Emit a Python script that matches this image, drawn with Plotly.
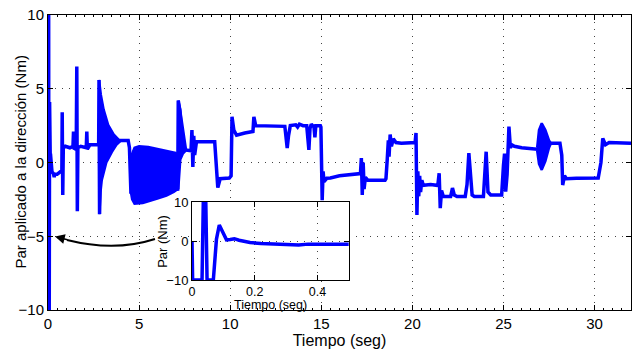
import plotly.graph_objects as go

# ---- data: first 0.5 s (shown in inset and main chart) ----
t_start = [0.0, 0.002, 0.032, 0.036, 0.044, 0.048, 0.068, 0.078, 0.087, 0.098, 0.11, 0.122, 0.135,
           0.15, 0.17, 0.185, 0.22, 0.26, 0.3, 0.34, 0.37, 0.42, 0.5]
v_start = [0.0, -10.0, -10.0, 10.0, 10.0, -10.0, -10.0, 0.5, 4.1, 2.5, 0.3, 0.4, 0.6,
           0.2, -0.2, -0.4, -0.65, -0.7, -0.75, -1.0, -0.8, -0.8, -0.8]

# ---- data: rest of the signal (t > 0.5 s) ----
t_rest = [0.6, 0.7, 0.76, 0.78, 0.81, 0.84, 0.95, 1.2, 1.37, 1.40, 1.43, 1.55, 1.58, 1.61, 1.64, 1.8, 2.0,
          2.1, 2.13, 2.16, 2.3, 2.7, 2.78, 2.80, 2.83, 2.9, 3.3,
          3.96, 4.4, 4.47, 4.55,
          7.12, 7.15,
          7.55, 7.85, 7.9, 7.95, 8.0, 8.05, 8.15, 9.15, 9.25, 9.32, 9.45, 9.95, 10.05, 10.1, 10.2,
          10.35, 10.8, 11.25, 11.3, 11.4, 13.0, 13.08, 13.13, 13.2, 13.3, 13.6, 13.7, 13.8, 14.0,
          14.2, 14.28, 14.32, 14.38, 14.45, 14.6, 14.65, 14.7, 14.95, 14.98, 15.05, 15.1, 15.15,
          15.3, 15.5, 16.0, 16.9, 17.15, 17.2, 17.25, 17.3, 17.35, 17.42, 17.55, 18.5, 18.55,
          18.62, 18.68, 18.72, 18.78, 18.85, 18.95, 19.1, 19.4, 20.15, 20.2, 20.25, 20.3, 20.35,
          20.4, 20.45, 20.52, 20.6, 21.0, 21.35, 21.4, 21.47, 21.53, 21.6, 21.7, 22.1, 22.2,
          22.3, 22.45, 22.9, 23.0, 23.1, 23.2, 23.28, 23.4, 23.9, 24.05, 24.15, 24.3, 24.9, 25.0,
          25.06, 25.12, 25.2, 25.3, 25.38, 25.45, 25.6, 26.0, 26.85,
          27.6, 28.1, 28.2, 28.25, 28.35, 28.45, 29.0, 30.2, 30.35, 30.45, 30.6, 30.8, 32.0]
v_rest = [-0.7, -0.6, -0.7, 3.4, -2.2, 1.0, 1.1, 1.0, 1.1, 2.1, 0.9, 1.0, 6.5, -3.3, 1.0, 1.1, 1.0,
          1.0, 2.1, 0.9, 1.2, 1.2, 1.2, 5.6, -3.5, 1.2, 1.3,
          1.5, 1.5, 1.0, -2.0,
          -1.8, 4.2,
          0.85, 0.8, 2.2, -0.3, 1.8, 0.5, 1.4, 1.4, -0.9, -1.7, -1.1, -1.05, -0.9, 3.1, 2.2,
          1.85, 2.0, 2.1, 3.1, 2.5, 2.45, 1.6, 0.98, 1.8, 2.5, 2.55, 2.4, 2.6, 2.5,
          2.5, 1.5, 0.85, 2.3, 2.6, 2.4, 1.7, 2.5, 2.5, 2.4, -2.55, -0.6, -1.3,
          -1.07, -1.05, -0.9, -0.75, -0.75, 0.3, -2.2, 0.0, -1.8, -1.0, -1.2, -1.2, -1.1,
          0.2, 1.5, 0.4, 1.9, 1.1, 1.6, 1.35, 1.3, 1.35, 2.0, -3.55, -0.6, -2.3,
          -0.9, -2.0, -1.2, -1.55, -1.5, -1.55, -1.5, -0.73, -3.1, -1.9, -2.3, -2.3, -1.73,
          -2.2, -2.3, -2.3, -1.5, 0.64, -1.5, -2.2, -2.3, -2.3, 0.73, -2.0, -2.2, -2.2, -0.2,
          0.6, -1.98, -0.8, 2.43, 1.0, 1.2, 1.1, 1.0, 0.9,
          1.3, 1.3, 0.5, -1.53, -0.9, -1.1, -1.07, -1.05, 0.0, 1.64, 1.2, 1.35, 1.3]

# ---- oscillation envelopes (filled bands) ----
band1_t_up = [2.80, 2.9, 3.05, 3.3, 3.6, 3.87, 3.96]
band1_v_up = [5.6, 4.6, 3.6, 2.55, 1.9, 1.55, 1.5]
band1_t_lo = [2.82, 2.88, 2.95, 3.2, 3.5, 3.75, 3.96]
band1_v_lo = [-3.5, -2.0, -1.2, 0.0, 0.7, 1.2, 1.45]

band2_t_up = [4.55, 4.62, 4.75, 5.0, 5.5, 6.0, 6.5, 7.0, 7.12]
band2_v_up = [-1.5, 0.6, 1.0, 1.1, 1.05, 0.9, 0.8, 0.65, 0.5]
band2_t_lo = [4.55, 4.62, 4.75, 5.2, 6.0, 6.5, 6.9, 7.12]
band2_v_lo = [-2.0, -2.5, -2.8, -2.75, -2.45, -2.25, -2.0, -1.8]

band3_t_up = [7.15, 7.26, 7.35, 7.45, 7.55]
band3_v_up = [4.2, 3.6, 2.2, 1.2, 0.9]
band3_t_lo = [7.15, 7.26, 7.4, 7.55]
band3_v_lo = [-1.8, 0.2, 0.6, 0.8]

band4_t_up = [26.85, 26.95, 27.1, 27.3, 27.5, 27.6]
band4_v_up = [1.0, 2.2, 2.66, 2.2, 1.5, 1.3]
band4_t_lo = [26.85, 26.95, 27.1, 27.3, 27.5, 27.6]
band4_v_lo = [0.8, -0.1, -0.5, 0.1, 1.0, 1.3]

x_ticks = [0, 5, 10, 15, 20, 25, 30]
y_ticks = [-10, -5, 0, 5, 10]
ix_ticks = [0, 0.2, 0.4]
iy_ticks = [-10, 0, 10]

BLUE = "#0000ff"
FONT = "Liberation Sans"

fig = go.Figure()

bands = [(band1_t_up, band1_v_up, band1_t_lo, band1_v_lo),
         (band2_t_up, band2_v_up, band2_t_lo, band2_v_lo),
         (band3_t_up, band3_v_up, band3_t_lo, band3_v_lo),
         (band4_t_up, band4_v_up, band4_t_lo, band4_v_lo)]
for tu, vu, tl, vl in bands:
    fig.add_trace(go.Scatter(x=tu + tl[::-1], y=vu + vl[::-1], fill="toself",
                             fillcolor=BLUE, mode="lines", line=dict(color=BLUE, width=2.5),
                             showlegend=False, hoverinfo="skip"))

fig.add_trace(go.Scatter(x=t_start + t_rest, y=v_start + v_rest, mode="lines",
                         line=dict(color=BLUE, width=3.5), showlegend=False))

fig.add_trace(go.Scatter(x=t_start, y=v_start, mode="lines", xaxis="x2", yaxis="y2",
                         line=dict(color=BLUE, width=3.5), showlegend=False))

grid = dict(showgrid=True, gridcolor="#444", griddash="1px,6px", gridwidth=1,
            showline=True, linecolor="black", linewidth=1, mirror="ticks",
            ticks="inside", ticklen=5, tickcolor="black", zeroline=False)

fig.update_layout(
    width=633, height=351,
    margin=dict(l=48, r=2, t=15, b=41),
    paper_bgcolor="white", plot_bgcolor="white",
    font=dict(family=FONT, color="black"),
    xaxis=dict(range=[0, 32], tickvals=x_ticks, tickfont=dict(size=15),
               title=dict(text="Tiempo (seg)", font=dict(size=16), standoff=0),
               minor=dict(ticks="inside", dtick=0.5, ticklen=2, tickcolor="black", showgrid=False),
               **grid),
    yaxis=dict(range=[-10, 10], tickvals=y_ticks, tickfont=dict(size=15), **grid),
    xaxis2=dict(domain=[0.247, 0.516], anchor="y2", range=[0, 0.5], tickvals=ix_ticks,
                ticktext=["0", "0.2", "0.4"], tickfont=dict(size=12.5), **grid),
    yaxis2=dict(domain=[0.1017, 0.366], anchor="x2", range=[-10, 10], tickvals=iy_ticks,
                tickfont=dict(size=13), **grid),
    shapes=[dict(type="path", xref="paper", yref="paper",
                 path="M 0.1835 0.2407 Q 0.1149 0.1966 0.0326 0.2373",
                 line=dict(color="black", width=2))],
    annotations=[
        dict(x=0.012, y=0.249, xref="paper", yref="paper", text="",
             showarrow=True, ax=14, ay=3.5, arrowhead=2, arrowsize=1.3,
             arrowwidth=1.5, arrowcolor="black"),
        dict(x=-0.048, y=0.5, xref="paper", yref="paper", text="Par aplicado a la dirección (Nm)",
             textangle=-90, showarrow=False, font=dict(size=15), xanchor="center", yanchor="middle"),
        dict(x=0.197, y=0.234, xref="paper", yref="paper", text="Par (Nm)",
             textangle=-90, showarrow=False, font=dict(size=13), xanchor="center", yanchor="middle"),
        dict(x=0.381, y=0.018, xref="paper", yref="paper", text="Tiempo (seg)",
             showarrow=False, font=dict(size=12.5), xanchor="center", yanchor="middle"),
    ],
)

fig.write_html("out.html")
